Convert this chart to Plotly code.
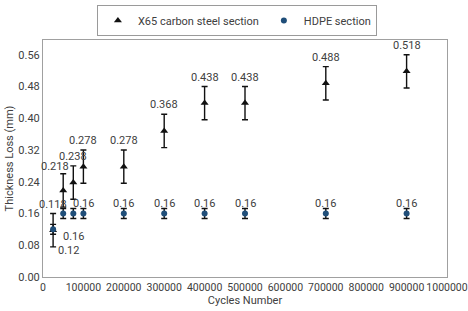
import plotly.graph_objects as go

cycles = [25000, 50000, 75000, 100000, 200000, 300000, 400000, 500000, 700000, 900000]
x65_loss = [0.118, 0.218, 0.238, 0.278, 0.278, 0.368, 0.438, 0.438, 0.488, 0.518]
x65_err = [0.042] * 10
hdpe_loss = [0.12, 0.16, 0.16, 0.16, 0.16, 0.16, 0.16, 0.16, 0.16, 0.16]
hdpe_err = [0.0125] * 10
x_ticks = list(range(0, 1000001, 100000))
y_ticks = [0.0, 0.08, 0.16, 0.24, 0.32, 0.40, 0.48, 0.56]

FONT = "Roboto"
TXT = "#404040"

fig = go.Figure()
fig.add_trace(go.Scatter(
    x=cycles, y=x65_loss, mode="markers", name="X65 carbon steel section",
    marker=dict(symbol="triangle-up", size=7, color="#111111"),
    error_y=dict(type="data", array=x65_err, color="#111111", thickness=1.4, width=3),
))
fig.add_trace(go.Scatter(
    x=cycles, y=hdpe_loss, mode="markers", name="HDPE section",
    marker=dict(symbol="circle", size=6, color="#1F4E79"),
    error_y=dict(type="data", array=hdpe_err, color="#111111", thickness=1.4, width=3),
))

def fmt(v):
    return ("%.3f" % v).rstrip("0")

# label placement (style): x65 labels above the markers
x65_shift = {1: (-8, 24)}
for i, (cx, v) in enumerate(zip(cycles, x65_loss)):
    dx, dy = x65_shift.get(i, (0, 26))
    fig.add_annotation(x=cx, y=v, text=fmt(v), showarrow=False, xshift=dx, yshift=dy,
                       font=dict(family=FONT, size=11, color=TXT))

hdpe_shift = {0: (15, -21), 1: None, 2: (0, -23)}
for i, (cx, v) in enumerate(zip(cycles, hdpe_loss)):
    s = hdpe_shift.get(i, (0, 10))
    if s is None:
        continue
    fig.add_annotation(x=cx, y=v, text=fmt(v), showarrow=False, xshift=s[0], yshift=s[1],
                       font=dict(family=FONT, size=11, color=TXT))

fig.update_layout(
    width=468, height=311,
    margin=dict(l=43, r=21, t=40, b=34, autoexpand=False),
    paper_bgcolor="white", plot_bgcolor="white",
    font=dict(family=FONT, size=11, color=TXT),
    showlegend=True,
    legend=dict(orientation="h", x=0.48, xanchor="center", y=1.148, yanchor="top",
                bordercolor="#9a9a9a", borderwidth=1, font=dict(size=11, color=TXT)),
    xaxis=dict(range=[0, 1000000], tickvals=x_ticks, ticktext=[str(t) for t in x_ticks],
               showgrid=False, zeroline=False, showline=True, linecolor="#a0a0a0",
               linewidth=1, mirror=True, ticks="", automargin=False, tickangle=0,
               ticklabeloverflow="allow", tickfont=dict(size=10.5),
               title=dict(text="Cycles Number", font=dict(size=11), standoff=2)),
    yaxis=dict(range=[0, 0.597], tickvals=y_ticks, ticktext=["%.2f" % t for t in y_ticks],
               showgrid=False, zeroline=False, showline=True, linecolor="#a0a0a0",
               linewidth=1, mirror=True, ticks="", automargin=False,
               title=dict(text="Thickness Loss (mm)", font=dict(size=11), standoff=2)),
)

fig.write_html("out.html", config={"displayModeBar": False},
               post_script="document.body.style.margin='0';")
